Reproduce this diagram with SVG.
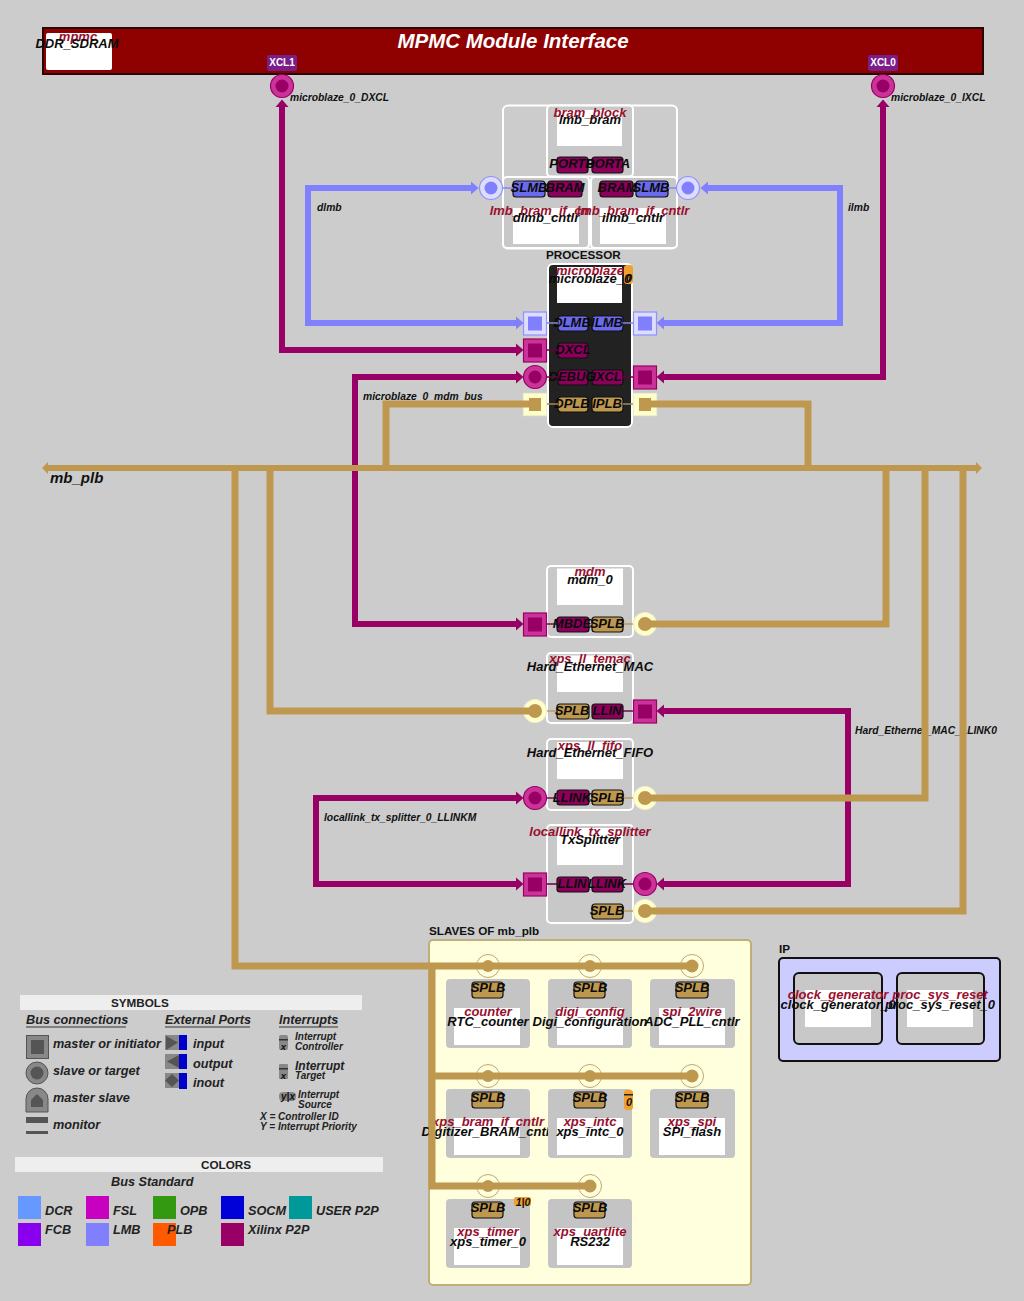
<svg xmlns="http://www.w3.org/2000/svg" width="1024" height="1301" viewBox="0 0 1024 1301">
<style>
text{font-family:"Liberation Sans",Arial,sans-serif;font-weight:bold;font-style:italic;fill:#111}
.c{text-anchor:middle}
.red{fill:#99102f;font-size:13px;text-anchor:middle}
.blk{fill:#0c0c0c;font-size:13px;text-anchor:middle}
.pt{font-size:13px;text-anchor:middle;fill:#0a0a0a}
.lb{font-size:10.3px}
.up{font-style:normal;font-size:11.7px}
.lg{font-size:12.7px;fill:#222}
.sm{font-size:10px;fill:#222}
.node{fill:#c8c8c8;stroke:#fff;stroke-width:2}
.slave{fill:#c4c4c4}
.in{fill:#fff}
.chip{stroke:#111;stroke-width:1.2}
.pl{fill:#bf9850}.xp{fill:#8c005c}.lm{fill:#6a6aee}
.w{fill:none;stroke-linejoin:miter}
.wp{stroke:#bf9850;stroke-width:7}
.wx{stroke:#990066;stroke-width:6}
.wl{stroke:#8080ff;stroke-width:6}
.pms{fill:#cc3399;stroke:#990066;stroke-width:1.2}
.pmi{fill:#990066}
.pls{fill:#ddddff;stroke:#9090ff;stroke-width:1.2}
.pli{fill:#8080ff}
.pps{fill:#ffffcc;stroke:#eeeecc;stroke-width:1.2}
.ppi{fill:#bf9850}
.sc{fill:#ffffdd;stroke:#bfa870;stroke-width:1}
.bar{fill:#eeeeee}
.ic{fill:#888}.id{fill:#555}
.irq{fill:#f0a030}
</style>
<defs>
<marker id="ax" markerUnits="userSpaceOnUse" viewBox="0 -7 8 14" markerWidth="8" markerHeight="14" refX="0" refY="0" orient="auto-start-reverse"><path d="M0,-6.500L7.500,0L0,6.500z" fill="#990066"/></marker>
<marker id="al" markerUnits="userSpaceOnUse" viewBox="0 -7 8 14" markerWidth="8" markerHeight="14" refX="0" refY="0" orient="auto-start-reverse"><path d="M0,-6.500L7.500,0L0,6.500z" fill="#8080ff"/></marker>
<marker id="ap" markerUnits="userSpaceOnUse" viewBox="0 -6 6 12" markerWidth="6" markerHeight="12" refX="0" refY="0" orient="auto-start-reverse"><path d="M0,-6L6,0L0,6z" fill="#bf9850"/></marker>
</defs>
<rect width="1024" height="1301" fill="#cccccc"/>

<g id="mpmc">
<rect x="43" y="28" width="940" height="46" fill="#8f0000" stroke="#2a0505" stroke-width="2"/>
<rect x="46" y="33" width="66" height="37" rx="2" class="in"/>
<text class="red" x="78" y="41">mpmc</text>
<text class="blk" x="77" y="48">DDR_SDRAM</text>
<text x="513" y="48" class="c" style="font-size:20.500px;fill:#fff">MPMC Module Interface</text>
<rect x="267" y="55" width="30" height="16" rx="2" fill="#7c1c88"/>
<text x="282" y="66" class="c" style="font-size:10px;fill:#fff;font-style:normal">XCL1</text>
<rect x="868" y="55" width="30" height="16" rx="2" fill="#7c1c88"/>
<text x="883" y="66" class="c" style="font-size:10px;fill:#fff;font-style:normal">XCL0</text>
<circle cx="282" cy="86" r="11.500" class="pms"/><circle cx="282" cy="86" r="6.500" class="pmi"/>
<circle cx="883" cy="86" r="11.500" class="pms"/><circle cx="883" cy="86" r="6.500" class="pmi"/>
</g>

<g id="labels">
<text class="lb" x="290" y="101">microblaze_0_DXCL</text>
<text class="lb" x="891" y="101">microblaze_0_IXCL</text>
<text class="lb" x="317" y="211">dlmb</text>
<text class="lb" x="848" y="211">ilmb</text>
<text class="lb" x="363" y="400">microblaze_0_mdm_bus</text>
<text x="50" y="483" style="font-size:15px">mb_plb</text>
<text class="lb" x="855" y="734">Hard_Ethernet_MAC_LLINK0</text>
<text class="lb" x="324" y="821">locallink_tx_splitter_0_LLINKM</text>
<text class="up" x="546" y="259">PROCESSOR</text>
<text class="up" x="429" y="935">SLAVES OF mb_plb</text>
<text class="up" x="779" y="953">IP</text>
</g>

<g id="lmb_group"><rect x="503" y="105.500" width="174" height="143" rx="5" fill="none" stroke="#fff" stroke-width="2"/></g>
<g id="lmb_bram">
<rect x="547" y="105.500" width="86" height="71" rx="4" class="node"/>
<rect x="557" y="110" width="65" height="36" class="in"/>
<text class="red" x="590" y="117">bram_block</text><text class="blk" x="590" y="124">lmb_bram</text>
<rect x="557" y="157" width="31" height="16" rx="3" class="chip xp"/><rect x="592" y="157" width="31" height="16" rx="3" class="chip xp"/>
<text class="pt" x="572" y="168">PORTB</text><text class="pt" x="608" y="168">PORTA</text>
</g>
<g id="dlmb_cntlr">
<rect x="503" y="177" width="86" height="71" rx="4" class="node"/>
<rect x="513" y="208" width="66" height="36" class="in"/>
<rect x="513" y="181" width="32" height="16" rx="3" class="chip lm"/><rect x="548" y="181" width="34" height="16" rx="3" class="chip xp"/>
<text class="pt" x="529" y="192">SLMB</text><text class="pt" x="565" y="192">BRAM</text>
<text class="red" x="546" y="215">lmb_bram_if_cntlr</text><text class="blk" x="546" y="222">dlmb_cntlr</text>
</g>
<g id="ilmb_cntlr">
<rect x="591" y="177" width="86" height="71" rx="4" class="node"/>
<rect x="600" y="208" width="66" height="36" class="in"/>
<rect x="600" y="181" width="33" height="16" rx="3" class="chip xp"/><rect x="636" y="181" width="32" height="16" rx="3" class="chip lm"/>
<text class="pt" x="617" y="192">BRAM</text><text class="pt" x="651" y="192">SLMB</text>
<text class="red" x="633" y="215">lmb_bram_if_cntlr</text><text class="blk" x="633" y="222">ilmb_cntlr</text>
</g>
<g id="lmb_ports">
<line x1="500" y1="188" x2="513" y2="188" stroke="#8080ff" stroke-width="1.400"/><line x1="668" y1="188" x2="680" y2="188" stroke="#8080ff" stroke-width="1.400"/>
<circle cx="491" cy="188" r="11.500" class="pls"/><circle cx="491" cy="188" r="6.500" class="pli"/>
<circle cx="688" cy="188" r="11.500" class="pls"/><circle cx="688" cy="188" r="6.500" class="pli"/>
</g>

<g id="microblaze_0">
<rect x="548" y="264" width="84" height="163" rx="5" fill="#222" stroke="#fff" stroke-width="2"/>
<rect x="557" y="267" width="65" height="36" class="in"/>
<rect x="624" y="265" width="9" height="19" rx="3" class="irq"/>
<text class="red" x="590" y="275">microblaze</text><text class="blk" x="590" y="283">microblaze_0</text>
<rect x="558" y="316" width="30" height="15" rx="3" class="chip lm"/><rect x="592" y="316" width="31" height="15" rx="3" class="chip lm"/>
<rect x="558" y="343" width="30" height="15" rx="3" class="chip xp"/>
<rect x="558" y="370" width="30" height="15" rx="3" class="chip xp"/><rect x="592" y="370" width="31" height="15" rx="3" class="chip xp"/>
<rect x="558" y="397" width="30" height="15" rx="3" class="chip pl"/><rect x="592" y="397" width="31" height="15" rx="3" class="chip pl"/>
<text class="pt" x="572" y="327">DLMB</text><text class="pt" x="607" y="327">ILMB</text>
<text class="pt" x="573" y="354">DXCL</text>
<text class="pt" x="572" y="381">DEBUG</text><text class="pt" x="607" y="381">IXCL</text>
<text class="pt" x="572" y="408">DPLB</text><text class="pt" x="607" y="408">IPLB</text>
<path d="M547,323H558M623,323H633" stroke="#8888cc" stroke-width="1.400"/>
<path d="M547,350H558M547,377H558M623,377H633" stroke="#660044" stroke-width="1.400"/>
<path d="M547,404H558M623,404H633" stroke="#a08850" stroke-width="1.400"/>
<rect x="523.500" y="312" width="23" height="23" class="pls"/><rect x="528" y="316.500" width="14" height="14" class="pli"/>
<rect x="633.500" y="312" width="23" height="23" class="pls"/><rect x="638" y="316.500" width="14" height="14" class="pli"/>
<rect x="523.500" y="339" width="23" height="23" class="pms"/><rect x="528" y="343.500" width="14" height="14" class="pmi"/>
<circle cx="535" cy="377" r="11.500" class="pms"/><circle cx="535" cy="377" r="6.500" class="pmi"/>
<rect x="633.500" y="366" width="23" height="23" class="pms"/><rect x="638" y="370.500" width="14" height="14" class="pmi"/>
<rect x="523.500" y="393.500" width="23" height="22" class="pps"/><rect x="529" y="398" width="12" height="13" class="ppi"/>
<rect x="633.500" y="393.500" width="23" height="22" class="pps"/><rect x="639" y="398" width="12" height="13" class="ppi"/>
<text x="629" y="282" class="c" style="font-size:11px">0</text>
</g>

<g id="mdm_0">
<rect x="547" y="566" width="86" height="71" rx="4" class="node"/>
<rect x="557" y="568.500" width="66" height="36.500" class="in"/>
<text class="red" x="590" y="576">mdm</text><text class="blk" x="590" y="584">mdm_0</text>
<path d="M547,624H557" stroke="#660044" stroke-width="1.400"/><path d="M623,624H634" stroke="#bf9850" stroke-width="1.400"/>
<rect x="557" y="617" width="32" height="15" rx="3" class="chip xp"/><rect x="592" y="617" width="31" height="15" rx="3" class="chip pl"/>
<text class="pt" x="572" y="628">MBDE</text><text class="pt" x="607" y="628">SPLB</text>
<rect x="523.500" y="613" width="23" height="23" class="pms"/><rect x="528" y="617.500" width="14" height="14" class="pmi"/>
<circle cx="645" cy="624" r="11.500" class="pps"/><circle cx="645" cy="624" r="7" class="ppi"/>
</g>
<g id="Hard_Ethernet_MAC">
<rect x="547" y="653" width="86" height="70" rx="4" class="node"/>
<rect x="557" y="655.500" width="66" height="36.500" class="in"/>
<text class="red" x="590" y="663">xps_ll_temac</text><text class="blk" x="590" y="671">Hard_Ethernet_MAC</text>
<path d="M546,711H557" stroke="#bf9850" stroke-width="1.400"/><path d="M623,711H634" stroke="#660044" stroke-width="1.400"/>
<rect x="557" y="704" width="32" height="15" rx="3" class="chip pl"/><rect x="592" y="704" width="31" height="15" rx="3" class="chip xp"/>
<text class="pt" x="572" y="715">SPLB</text><text class="pt" x="607" y="715">LLIN</text>
<circle cx="535" cy="711" r="11.500" class="pps"/><circle cx="535" cy="711" r="7" class="ppi"/>
<rect x="633.500" y="700" width="23" height="23" class="pms"/><rect x="638" y="704.500" width="14" height="14" class="pmi"/>
</g>
<g id="Hard_Ethernet_FIFO">
<rect x="547" y="739" width="86" height="71" rx="4" class="node"/>
<rect x="557" y="742" width="66" height="37" class="in"/>
<text class="red" x="590" y="750">xps_ll_fifo</text><text class="blk" x="590" y="757">Hard_Ethernet_FIFO</text>
<path d="M546,798H557" stroke="#660044" stroke-width="1.400"/><path d="M623,798H634" stroke="#bf9850" stroke-width="1.400"/>
<rect x="557" y="790" width="32" height="15" rx="3" class="chip xp"/><rect x="592" y="790" width="31" height="15" rx="3" class="chip pl"/>
<text class="pt" x="572" y="802">LLINK</text><text class="pt" x="607" y="802">SPLB</text>
<circle cx="535" cy="798" r="11.500" class="pms"/><circle cx="535" cy="798" r="6.500" class="pmi"/>
<circle cx="645" cy="798" r="11.500" class="pps"/><circle cx="645" cy="798" r="7" class="ppi"/>
</g>
<g id="TxSplitter">
<rect x="547" y="825" width="86" height="98" rx="4" class="node"/>
<rect x="557" y="828" width="66" height="37" class="in"/>
<text class="red" x="590" y="836">locallink_tx_splitter</text><text class="blk" x="590" y="844">TxSplitter</text>
<path d="M546,884H557M623,884H634" stroke="#660044" stroke-width="1.400"/><path d="M623,911H634" stroke="#bf9850" stroke-width="1.400"/>
<rect x="557" y="877" width="32" height="15" rx="3" class="chip xp"/><rect x="592" y="877" width="31" height="15" rx="3" class="chip xp"/>
<rect x="592" y="904" width="31" height="15" rx="3" class="chip pl"/>
<text class="pt" x="572" y="888">LLIN</text><text class="pt" x="607" y="888">LLINK</text><text class="pt" x="607" y="915">SPLB</text>
<rect x="523.500" y="873" width="23" height="23" class="pms"/><rect x="528" y="877.500" width="14" height="14" class="pmi"/>
<circle cx="645" cy="884" r="11.500" class="pms"/><circle cx="645" cy="884" r="6.500" class="pmi"/>
<circle cx="645" cy="911" r="11.500" class="pps"/><circle cx="645" cy="911" r="7" class="ppi"/>
</g>

<g id="slaves_box"><rect x="429" y="940" width="322" height="345" rx="4" fill="#ffffdd" stroke="#bfae78" stroke-width="2"/></g>
<g id="slave_circles">
<circle cx="488" cy="966" r="11.500" class="sc"/><circle cx="590" cy="966" r="11.500" class="sc"/><circle cx="692" cy="966" r="11.500" class="sc"/>
<circle cx="488" cy="1076" r="11.500" class="sc"/><circle cx="590" cy="1076" r="11.500" class="sc"/><circle cx="692" cy="1076" r="11.500" class="sc"/>
<circle cx="488" cy="1186" r="11.500" class="sc"/><circle cx="590" cy="1186" r="11.500" class="sc"/>
</g>
<g id="RTC_counter"><rect x="446" y="979" width="84" height="69" rx="4" class="slave"/><rect x="454" y="1008" width="66" height="37" class="in"/><rect x="472" y="982" width="31" height="16" rx="3" class="chip pl"/><text class="pt" x="488" y="992">SPLB</text><text class="red" x="488" y="1016">counter</text><text class="blk" x="488" y="1026">RTC_counter</text></g>
<g id="Digi_configuration"><rect x="548" y="979" width="84" height="69" rx="4" class="slave"/><rect x="557" y="1008" width="66" height="37" class="in"/><rect x="574" y="982" width="31" height="16" rx="3" class="chip pl"/><text class="pt" x="590" y="992">SPLB</text><text class="red" x="590" y="1016">digi_config</text><text class="blk" x="590" y="1026">Digi_configuration</text></g>
<g id="ADC_PLL_cntlr"><rect x="650" y="979" width="85" height="69" rx="4" class="slave"/><rect x="659" y="1008" width="66" height="37" class="in"/><rect x="676" y="982" width="32" height="16" rx="3" class="chip pl"/><text class="pt" x="692" y="992">SPLB</text><text class="red" x="692" y="1016">spi_2wire</text><text class="blk" x="692" y="1026">ADC_PLL_cntlr</text></g>
<g id="Digitizer_BRAM_cntlr"><rect x="446" y="1089" width="84" height="69" rx="4" class="slave"/><rect x="454" y="1118" width="66" height="37" class="in"/><rect x="472" y="1092" width="31" height="16" rx="3" class="chip pl"/><text class="pt" x="488" y="1102">SPLB</text><text class="red" x="488" y="1126">xps_bram_if_cntlr</text><text class="blk" x="488" y="1136">Digitizer_BRAM_cntlr</text></g>
<g id="xps_intc_0"><rect x="548" y="1089" width="84" height="69" rx="4" class="slave"/><rect x="557" y="1118" width="66" height="37" class="in"/><rect x="574" y="1092" width="31" height="16" rx="3" class="chip pl"/><text class="pt" x="590" y="1102">SPLB</text><text class="red" x="590" y="1126">xps_intc</text><text class="blk" x="590" y="1136">xps_intc_0</text><rect x="624" y="1090" width="9" height="20" rx="3" class="irq"/><rect x="624" y="1094" width="9" height="1.500" fill="#222"/><text x="629" y="1106" class="c" style="font-size:11px">0</text></g>
<g id="SPI_flash"><rect x="650" y="1089" width="85" height="69" rx="4" class="slave"/><rect x="659" y="1118" width="66" height="37" class="in"/><rect x="676" y="1092" width="32" height="16" rx="3" class="chip pl"/><text class="pt" x="692" y="1102">SPLB</text><text class="red" x="692" y="1126">xps_spi</text><text class="blk" x="692" y="1136">SPI_flash</text></g>
<g id="xps_timer_0"><rect x="446" y="1199" width="84" height="69" rx="4" class="slave"/><rect x="454" y="1228" width="66" height="37" class="in"/><rect x="472" y="1202" width="31" height="16" rx="3" class="chip pl"/><text class="pt" x="488" y="1212">SPLB</text><text class="red" x="488" y="1236">xps_timer</text><text class="blk" x="488" y="1246">xps_timer_0</text><rect x="514" y="1197" width="17" height="9" rx="2" class="irq"/><text x="523" y="1206" class="c" style="font-size:10.500px">1|0</text></g>
<g id="RS232"><rect x="548" y="1199" width="84" height="69" rx="4" class="slave"/><rect x="557" y="1228" width="66" height="37" class="in"/><rect x="574" y="1202" width="31" height="16" rx="3" class="chip pl"/><text class="pt" x="590" y="1212">SPLB</text><text class="red" x="590" y="1236">xps_uartlite</text><text class="blk" x="590" y="1246">RS232</text></g>

<g id="ip_box"><rect x="779" y="958" width="221" height="103" rx="4" fill="#ccccff" stroke="#111" stroke-width="2"/></g>
<g id="clock_generator_0"><rect x="794" y="973" width="88" height="71" rx="5" fill="#c8c8c8" stroke="#111" stroke-width="2"/><rect x="805" y="990" width="66" height="37" class="in"/><text class="red" x="838" y="999">clock_generator</text><text class="blk" x="838" y="1009">clock_generator_0</text></g>
<g id="proc_sys_reset_0"><rect x="897" y="973" width="87" height="71" rx="5" fill="#c8c8c8" stroke="#111" stroke-width="2"/><rect x="907" y="990" width="66" height="37" class="in"/><text class="red" x="940" y="999">proc_sys_reset</text><text class="blk" x="940" y="1009">proc_sys_reset_0</text></g>

<g id="connectors">
<path class="w wl" d="M516,323H308V188H471" marker-start="url(#al)" marker-end="url(#al)"/>
<path class="w wl" d="M708,188H840V323H664" marker-start="url(#al)" marker-end="url(#al)"/>
<path class="w wx" d="M516,350H282V107" marker-start="url(#ax)" marker-end="url(#ax)"/>
<path class="w wx" d="M664,377H883V107" marker-start="url(#ax)" marker-end="url(#ax)"/>
<path class="w wx" d="M516,377H355V624H516" marker-start="url(#ax)" marker-end="url(#ax)"/>
<path class="w wx" d="M664,711H848V884H664" marker-start="url(#ax)" marker-end="url(#ax)"/>
<path class="w wx" d="M516,798H316V884H516" marker-start="url(#ax)" marker-end="url(#ax)"/>
<path class="w wp" d="M532,404H386V468"/>
<path class="w wp" d="M648,404H808V468"/>
<path class="w wp" d="M48,468H976" marker-end="url(#ap)" marker-start="url(#ap)" style="stroke-width:6"/>
<path class="w wp" d="M235,468V966H692"/>
<path class="w wp" d="M270,468V711H535"/>
<path class="w wp" d="M886,468V624H645"/>
<path class="w wp" d="M925,468V798H645"/>
<path class="w wp" d="M963,468V911H645"/>
<path class="w wp" d="M432,966V1186H590"/>
<path class="w wp" d="M432,1076H692"/>
<g fill="#bf9850">
<circle cx="488" cy="966" r="6"/><circle cx="590" cy="966" r="6"/><circle cx="692" cy="966" r="6.500"/>
<circle cx="488" cy="1076" r="6"/><circle cx="590" cy="1076" r="6"/><circle cx="692" cy="1076" r="6.500"/>
<circle cx="488" cy="1186" r="6"/><circle cx="590" cy="1186" r="6.500"/>
</g>
</g>

<g id="symbols">
<rect x="20" y="995" width="342" height="15" class="bar"/>
<text class="up" x="111" y="1007" style="fill:#222">SYMBOLS</text>
<text class="lg" x="26" y="1024">Bus connections</text><rect x="26" y="1026.500" width="100" height="1" fill="#333"/>
<text class="lg" x="165" y="1024">External Ports</text><rect x="165" y="1026.500" width="85" height="1" fill="#333"/>
<text class="lg" x="279" y="1024">Interrupts</text><rect x="279" y="1026.500" width="59" height="1" fill="#333"/>
<rect x="26.500" y="1035.500" width="22" height="23" class="ic" stroke="#555"/><rect x="31" y="1040" width="13" height="14" class="id"/>
<circle cx="37" cy="1073" r="11" class="ic" stroke="#555"/><circle cx="37" cy="1073" r="6.500" class="id"/>
<path d="M26,1112V1099A11,11 0 0 1 48,1099V1112z" class="ic" stroke="#555"/><path d="M31,1107V1100L37,1094L43,1100V1107z" class="id"/>
<rect x="26" y="1117" width="22" height="6" class="id"/><rect x="26" y="1131" width="22" height="3" class="id"/>
<text class="lg" x="53" y="1048">master or initiator</text>
<text class="lg" x="53" y="1075">slave or target</text>
<text class="lg" x="53" y="1102">master slave</text>
<text class="lg" x="53" y="1129">monitor</text>
<rect x="165" y="1035" width="15" height="15" class="ic"/><path d="M166,1036L178,1042.500L166,1050z" class="id"/><rect x="179" y="1035" width="8" height="15" fill="#0000cc"/>
<rect x="165" y="1054" width="15" height="15" class="ic"/><path d="M179,1055L167,1061.500L179,1068z" class="id"/><rect x="179" y="1054" width="8" height="15" fill="#0000cc"/>
<rect x="165" y="1073" width="15" height="15" class="ic"/><path d="M172,1074L179,1080.500L172,1087L165,1080.500z" class="id"/><rect x="179" y="1073" width="8" height="16" fill="#0000cc"/>
<text class="lg" x="193" y="1048">input</text><text class="lg" x="193" y="1068">output</text><text class="lg" x="193" y="1087">inout</text>
<rect x="279" y="1035" width="9" height="15" rx="2" class="ic"/><rect x="279" y="1039" width="9" height="1.500" fill="#333"/><text x="283.500" y="1050" class="c" style="font-size:9.500px">x</text>
<rect x="279" y="1064" width="9" height="15" rx="1" class="ic"/><rect x="279" y="1068" width="9" height="1.500" fill="#333"/><text x="283.500" y="1079" class="c" style="font-size:9.500px">x</text>
<rect x="279" y="1092" width="17" height="9" rx="4" class="ic"/><text x="288" y="1100" class="c" style="font-size:10px">y|x</text>
<text class="sm" x="295" y="1040">Interrupt</text><text class="sm" x="295" y="1050">Controller</text>
<text x="295" y="1070" style="font-size:12px;fill:#222">Interrupt</text><text class="sm" x="295" y="1079">Target</text>
<text class="sm" x="298" y="1098">Interrupt</text><text class="sm" x="298" y="1108">Source</text>
<text class="sm" x="260" y="1120">X = Controller ID</text><text class="sm" x="260" y="1130">Y = Interrupt Priority</text>
</g>
<g id="colors">
<rect x="15" y="1157" width="368" height="15" class="bar"/>
<text class="up" x="201" y="1169" style="fill:#222">COLORS</text>
<text class="lg" x="111" y="1186">Bus Standard</text>
<rect x="18" y="1196" width="23" height="23" fill="#6699ff"/><rect x="18" y="1223" width="23" height="23" fill="#8800ee"/>
<rect x="86" y="1196" width="23" height="23" fill="#c800c0"/><rect x="86" y="1223" width="23" height="23" fill="#8080ff"/>
<rect x="153" y="1196" width="23" height="23" fill="#339911"/><rect x="153" y="1223" width="23" height="23" fill="#ff5a00"/>
<rect x="221" y="1196" width="23" height="23" fill="#0000d8"/><rect x="221" y="1223" width="23" height="23" fill="#990066"/>
<rect x="289" y="1196" width="23" height="23" fill="#009999"/>
<text class="lg" x="45" y="1215">DCR</text><text class="lg" x="45" y="1234">FCB</text>
<text class="lg" x="113" y="1215">FSL</text><text class="lg" x="113" y="1234">LMB</text>
<text class="lg" x="180" y="1215">OPB</text><text class="lg" x="167" y="1234">PLB</text>
<text class="lg" x="248" y="1215">SOCM</text><text class="lg" x="248" y="1234">Xilinx P2P</text>
<text class="lg" x="316" y="1215">USER P2P</text>
</g>
</svg>
